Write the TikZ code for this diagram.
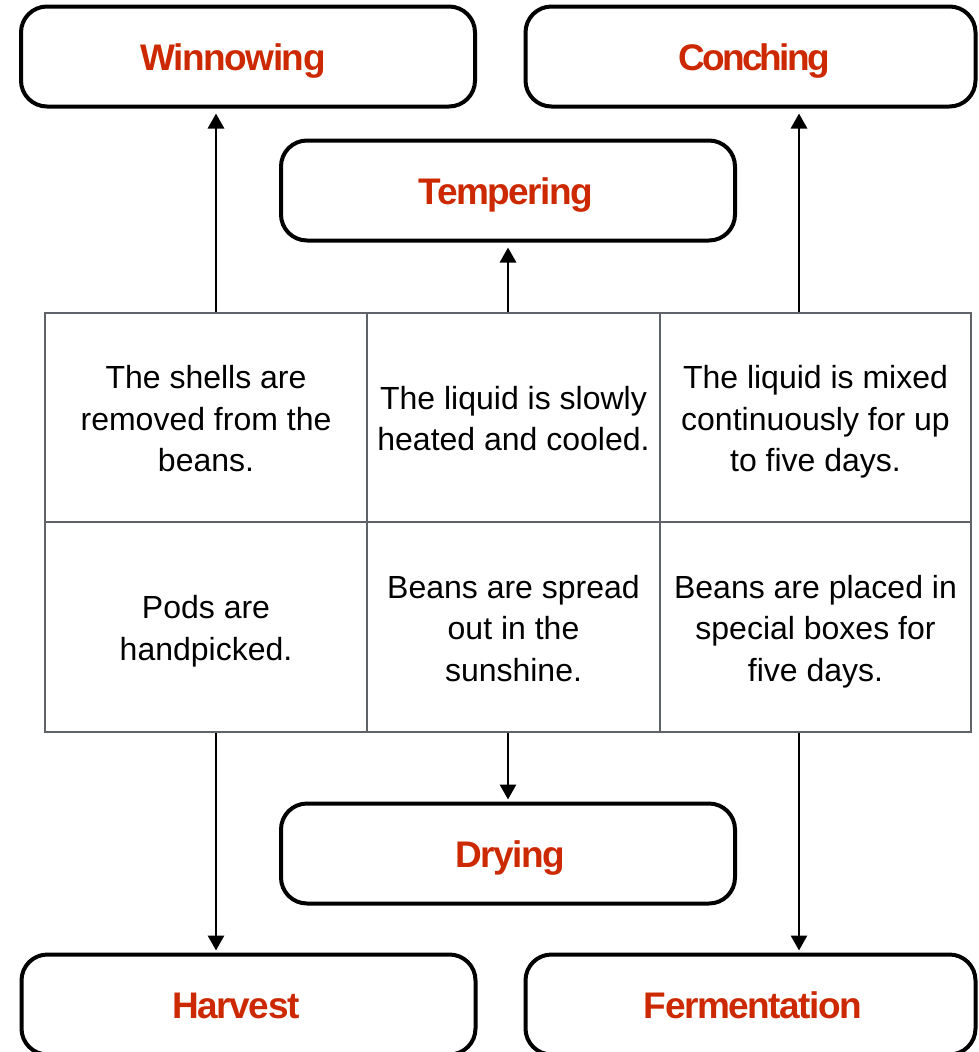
\documentclass[tikz,border=0pt]{standalone}
\usepackage{fontspec}
\setmainfont{Liberation Sans}
\newfontfamily\lblfont[LetterSpace=-4]{Liberation Sans}
\newfontfamily\lbltightfont[LetterSpace=-7.5]{Liberation Sans}
\usetikzlibrary{arrows.meta}
\definecolor{lblred}{RGB}{204,41,0}
\definecolor{gridgray}{RGB}{95,99,104}
\newcommand\cellstrut{\rule[-7pt]{0pt}{39pt}}
\begin{document}
\begin{tikzpicture}[x=1pt,y=-1pt,
  procbox/.style={draw=black, line width=4pt, rounded corners=26pt, minimum width=454pt, minimum height=100pt, inner sep=0pt, fill=white},
  lbl/.style={text=lblred, font=\lblfont\bfseries\fontsize{37}{40}\selectfont, anchor=base, inner sep=0pt},
  cell/.style={draw=gridgray, line width=2.5pt, inner sep=0pt, align=center, font=\fontsize{32}{41.5}\selectfont},
  arrup/.style={line width=2.8pt, -{Triangle[width=16pt,length=15pt]}, shorten >=5pt},
  arrdown/.style={line width=2.8pt, -{Triangle[width=16pt,length=15pt]}, shorten >=2pt}]
\useasboundingbox (0,0) rectangle (978,1052);
\fill[white] (0,0) rectangle (978,1052);
% process boxes
\node[procbox] (win) at (248,56.5) {};
\node[procbox, minimum width=450pt] (conch) at (750.5,56.5) {};
\node[procbox] (temp) at (508,190.5) {};
\node[procbox] (dry) at (508,853.5) {};
\node[procbox] (harv) at (248.5,1004.5) {};
\node[procbox, minimum width=450pt] (ferm) at (750.5,1004.5) {};
% labels
\node[lbl] (winL) at (233,70) {Winnowing};
\node[lbl, font=\lbltightfont\bfseries\fontsize{37}{40}\selectfont] (conchL) at (754,70) {Conching};
\node[lbl] (tempL) at (506,204) {Tempering};
\node[lbl] (dryL) at (510,867) {Drying};
\node[lbl] (harvL) at (236,1018) {Harvest};
\node[lbl] (fermL) at (753,1018) {Fermentation};
% arrows
\coordinate (p1) at (216,313);
\coordinate (p2) at (508,313);
\coordinate (p3) at (799,313);
\coordinate (q1) at (216,732);
\coordinate (q2) at (508,732);
\coordinate (q3) at (799,732);
\draw[arrup] (p1) -- (p1 |- win.south);
\draw[arrup] (p2) -- (p2 |- temp.south);
\draw[arrup] (p3) -- (p3 |- conch.south);
\draw[arrdown] (q1) -- (q1 |- harv.north);
\draw[arrdown] (q2) -- (q2 |- dry.north);
\draw[arrdown] (q3) -- (q3 |- ferm.north);
% grid cells
\node[cell, minimum width=322pt, minimum height=209pt] (c11) at (206,417.5) {\cellstrut The shells are\\removed from the\\beans.\cellstrut};
\node[cell, minimum width=293pt, minimum height=209pt] (c12) at (513.5,417.5) {\cellstrut The liquid is slowly\\heated and cooled.\cellstrut};
\node[cell, minimum width=311pt, minimum height=209pt] (c13) at (815.5,417.5) {\cellstrut The liquid is mixed\\continuously for up\\to five days.\cellstrut};
\node[cell, minimum width=322pt, minimum height=210pt] (c21) at (206,627) {\cellstrut Pods are\\handpicked.\cellstrut};
\node[cell, minimum width=293pt, minimum height=210pt] (c22) at (513.5,627) {\cellstrut Beans are spread\\out in the\\sunshine.\cellstrut};
\node[cell, minimum width=311pt, minimum height=210pt] (c23) at (815.5,627) {\cellstrut Beans are placed in\\special boxes for\\five days.\cellstrut};
\end{tikzpicture}
\end{document}
